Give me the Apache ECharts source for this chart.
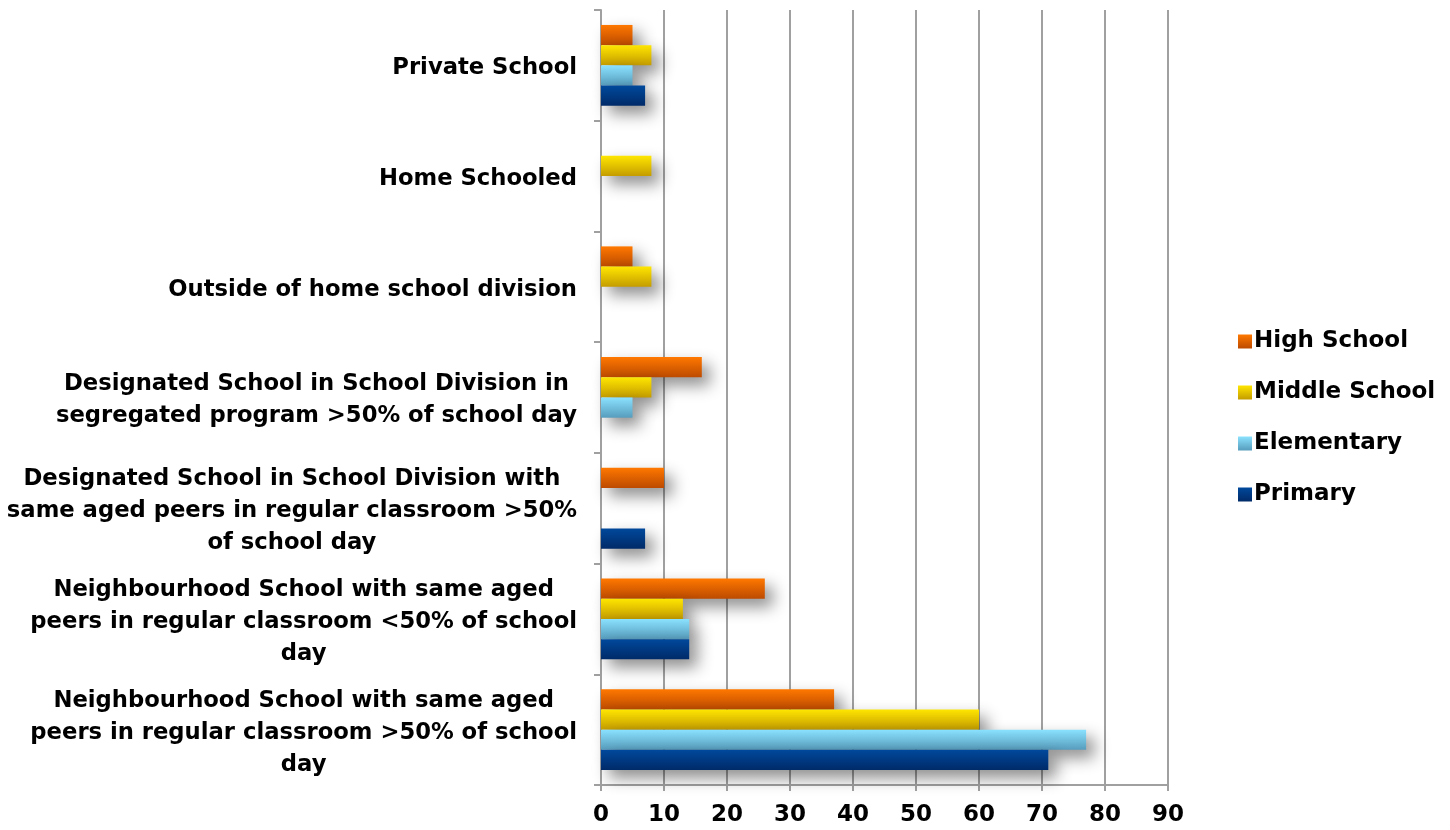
<!DOCTYPE html>
<html>
<head>
<meta charset="utf-8">
<script src="https://cdn.jsdelivr.net/npm/echarts@6/dist/echarts.min.js"></script>
<style>html,body{margin:0;padding:0;background:#fff}#c{width:1450px;height:830px}</style>
</head>
<body>
<div id="c"></div>
<script>
// categories bottom to top
const categories = [
  "Neighbourhood School with same aged\npeers in regular classroom >50% of school\nday",
  "Neighbourhood School with same aged\npeers in regular classroom <50% of school\nday",
  "Designated School in School Division with\nsame aged peers in regular classroom >50%\nof school day",
  "Designated School in School Division in\nsegregated program >50% of school day",
  "Outside of home school division",
  "Home Schooled",
  "Private School"
];
const seriesNames = ["High School", "Middle School", "Elementary", "Primary"];
const high        = [37, 26, 10, 16, 5, null, 5];
const middle      = [60, 13, null, 8, 8, 8, 8];
const elementary  = [77, 14, null, 5, null, null, 5];
const primary     = [71, 14, 7, null, null, null, 7];
const xTicks = [0, 10, 20, 30, 40, 50, 60, 70, 80, 90];

const FONT = "DejaVu Sans";
function grad(c1, c2) {
  return new echarts.graphic.LinearGradient(0, 0, 0, 1, [
    {offset: 0, color: c1}, {offset: 1, color: c2}
  ]);
}
const colors = [
  grad('#FF7800', '#BC4A00'),
  grad('#FFE600', '#C49C00'),
  grad('#8AE2FF', '#579CBC'),
  grad('#00499C', '#002A68')
];
const legendColors = ['#E86000', '#E8C800', '#74C6E6', '#003F88'];
const dataSets = [high, middle, elementary, primary];

const chart = echarts.init(document.getElementById('c'), null, {renderer: 'canvas'});
chart.setOption({
  animation: false,
  backgroundColor: '#fff',
  color: legendColors,
  grid: {left: 601, right: 282, top: 10, bottom: 45, containLabel: false},
  legend: {
    orient: 'vertical',
    left: 1233, top: 324,
    itemWidth: 14, itemHeight: 14, itemGap: 26,
    icon: 'rect',
    data: seriesNames,
    textStyle: {fontFamily: FONT, fontWeight: 'bold', fontSize: 23, lineHeight: 25, color: '#000', padding: [0, 0, 0, -3]}
  },
  xAxis: {
    type: 'value', min: 0, max: 90, interval: 10,
    axisLine: {show: true, lineStyle: {color: '#a0a0a0', width: 2}},
    axisTick: {show: true, length: 6, lineStyle: {color: '#a0a0a0', width: 2}},
    splitLine: {show: true, lineStyle: {color: '#a0a0a0', width: 2}},
    axisLabel: {
      margin: 19,
      fontFamily: FONT, fontWeight: 'bold', fontSize: 23, color: '#000',
      formatter: v => xTicks.includes(v) ? String(v) : ''
    }
  },
  yAxis: {
    type: 'category', data: categories,
    axisLine: {show: true, lineStyle: {color: '#a0a0a0', width: 2}},
    axisTick: {show: true, length: 7, lineStyle: {color: '#a0a0a0', width: 2}},
    axisLabel: {
      margin: 24, align: 'right',
      padding: [6, 0, 0, 0],
      fontFamily: FONT, fontWeight: 'bold', fontSize: 22.7, color: '#000', lineHeight: 32,
      formatter: v => v.split('\n').map(s => '{c|' + s + '}').join('\n'),
      rich: {
        c: {align: 'center', fontFamily: FONT, fontWeight: 'bold', fontSize: 22.7, color: '#000', lineHeight: 32}
      }
    }
  },
  series: seriesNames.map((n, i) => ({
    name: n, type: 'bar', data: dataSets[i],
    barGap: '0%', barCategoryGap: '27%',
    itemStyle: {
      color: colors[i],
      shadowBlur: 16, shadowColor: 'rgba(0,0,0,0.45)', shadowOffsetX: 8, shadowOffsetY: 8
    },
    z: 2
  }))
});
</script>
</body>
</html>
